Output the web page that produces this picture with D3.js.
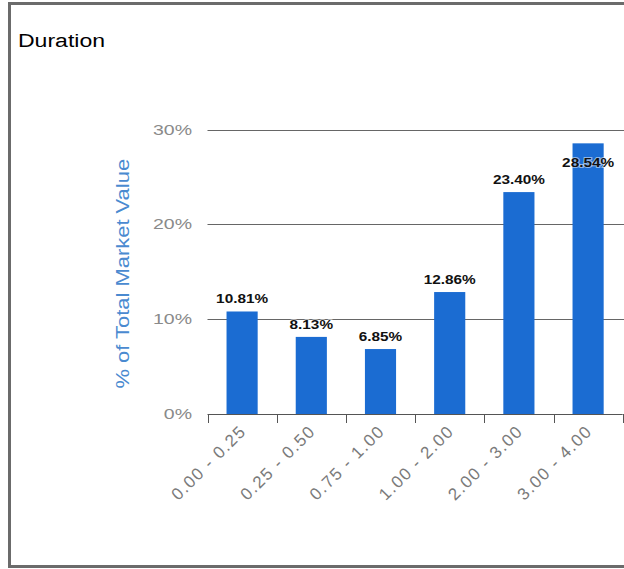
<!DOCTYPE html>
<html>
<head>
<meta charset="utf-8">
<script src="https://cdn.jsdelivr.net/npm/d3@7"></script>
<style>
  body { margin: 0; background: #fff; }
  text { font-family: "Liberation Sans", Arial, sans-serif; }
</style>
</head>
<body>
<svg id="svg" width="624" height="569"></svg>
<script>
// chart data
var categories = ["0.00 - 0.25", "0.25 - 0.50", "0.75 - 1.00", "1.00 - 2.00", "2.00 - 3.00", "3.00 - 4.00"];
var values = [10.81, 8.13, 6.85, 12.86, 23.40, 28.54];
var yTicks = [0, 10, 20, 30];

var svg = d3.select("#svg");
var W = 624, H = 569;

// frame
svg.append("rect")
  .attr("x", 9.5).attr("y", 3.5)
  .attr("width", 640).attr("height", 563)
  .attr("fill", "none")
  .attr("stroke", "#6b6b6b")
  .attr("stroke-width", 3);

svg.append("text")
  .attr("transform", "translate(18,47) scale(1.28,1)")
  .attr("font-size", 18)
  .attr("fill", "#000")
  .text("Duration");

var plotLeft = 207.5, plotRight = 622.7, plotTop = 129.5, plotBottom = 414;

var x = d3.scaleBand()
  .domain(categories)
  .range([plotLeft, plotRight])
  .paddingInner(0.55)
  .paddingOuter(0.275);

var y = d3.scaleLinear()
  .domain([0, 30])
  .range([plotBottom, plotTop]);

// gridlines
svg.append("g").selectAll("line")
  .data(yTicks.filter(function(d) { return d > 0; }))
  .enter().append("line")
  .attr("x1", plotLeft).attr("x2", W)
  .attr("y1", function(d) { return Math.round(y(d)) + 0.5; })
  .attr("y2", function(d) { return Math.round(y(d)) + 0.5; })
  .attr("stroke", "#666")
  .attr("stroke-width", 1.2);

// y labels
svg.append("g").selectAll("text")
  .data(yTicks)
  .enter().append("text")
  .attr("transform", function(d) { return "translate(192," + (y(d) + 5) + ") scale(1.3,1)"; })
  .attr("text-anchor", "end")
  .attr("font-size", 15)
  .attr("fill", "#8a8a8a")
  .text(function(d) { return d + "%"; });

svg.append("text")
  .attr("transform", "translate(129," + ((plotTop + plotBottom) / 2 + 2) + ") rotate(-90) scale(1.22,1)")
  .attr("text-anchor", "middle")
  .attr("font-size", 18)
  .attr("fill", "#4a8ad0")
  .text("% of Total Market Value");

// bars
svg.append("g").selectAll("rect")
  .data(values)
  .enter().append("rect")
  .attr("x", function(d, i) { return x(categories[i]); })
  .attr("y", function(d) { return y(d); })
  .attr("width", x.bandwidth())
  .attr("height", function(d) { return plotBottom - y(d); })
  .attr("fill", "#1b6cd2");

// x axis
var xAxis = d3.axisBottom(x).tickSize(0).tickSizeOuter(0);
var gx = svg.append("g")
  .attr("transform", "translate(0," + plotBottom + ")")
  .call(xAxis);
gx.select(".domain").attr("stroke", "#555").attr("d", "M" + plotLeft + ",0.5H" + plotRight);
gx.selectAll("text")
  .attr("font-size", 17)
  .attr("fill", "#7a7a7a")
  .attr("letter-spacing", 1.5)
  .attr("text-anchor", "end")
  .attr("font-family", "Liberation Sans, Arial, sans-serif")
  .attr("transform", "translate(1,14) rotate(-45)")
  .attr("y", 0).attr("dy", "0.35em");

// tick marks between categories
var edges = categories.map(function(c) { return x(c) - x.step() * x.paddingInner() / 2; });
edges.push(plotRight);
edges[0] = plotLeft;
svg.append("g").selectAll("line")
  .data(edges)
  .enter().append("line")
  .attr("x1", function(d) { return Math.round(d) + 0.5; })
  .attr("x2", function(d) { return Math.round(d) + 0.5; })
  .attr("y1", plotBottom).attr("y2", plotBottom + 9)
  .attr("stroke", "#555");

// value labels
svg.append("g").selectAll("text")
  .data(values)
  .enter().append("text")
  .attr("transform", function(d, i) {
    var cx = x(categories[i]) + x.bandwidth() / 2;
    var ty = Math.max(y(d) - 8, plotTop + 37);
    return "translate(" + cx + "," + ty + ") scale(1.18,1)";
  })
  .attr("text-anchor", "middle")
  .attr("font-size", 13)
  .attr("font-weight", "bold")
  .attr("fill", "#111")
  .attr("stroke", "#fff")
  .attr("stroke-width", 2)
  .attr("stroke-opacity", 0.5)
  .attr("paint-order", "stroke")
  .text(function(d) { return d.toFixed(2) + "%"; });
</script>
</body>
</html>
